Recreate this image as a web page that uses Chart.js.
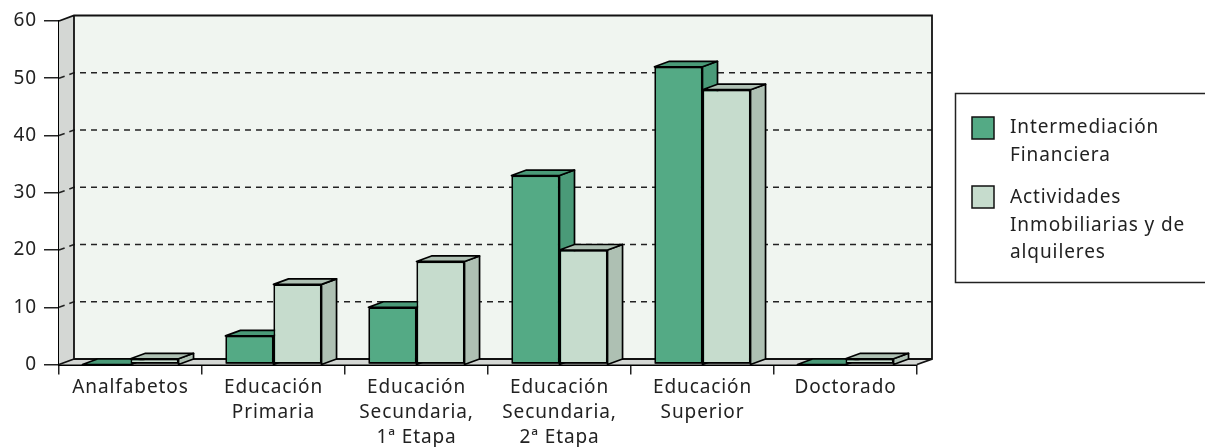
<!DOCTYPE html>
<html>
<head>
<meta charset="utf-8">
<style>html,body{margin:0;padding:0;background:#fff}canvas{display:block}</style>
<script src="https://cdn.jsdelivr.net/npm/chart.js@4"></script>
</head>
<body>
<canvas id="c" width="1205" height="447"></canvas>
<script>
const categories = [["Analfabetos"],["Educación","Primaria"],["Educación","Secundaria,","1ª Etapa"],["Educación","Secundaria,","2ª Etapa"],["Educación","Superior"],["Doctorado"]];
const serie1 = [0,5,10,33,52,0];
const serie2 = [1,14,18,20,48,1];
const legendLabels = [["Intermediación","Financiera"],["Actividades","Inmobiliarias y de","alquileres"]];
const yTicks = [0,10,20,30,40,50,60];
const FONT = "'Noto Sans'";
const FS = 19;
const SPACING = "0.9px";
const DX = 15, DY = -5.5;
const faceColors = [{top:"#4a9a78",side:"#4a9a78",front:"#54aa85"},{top:"#aec0b3",side:"#aec0b3",front:"#c6dccd"}];

function poly(ctx, pts, fill, stroke, lw){
  ctx.beginPath();
  pts.forEach((p,i)=> i?ctx.lineTo(p[0],p[1]):ctx.moveTo(p[0],p[1]));
  ctx.closePath();
  if(fill){ctx.fillStyle=fill;ctx.fill();}
  if(stroke){ctx.strokeStyle=stroke;ctx.lineWidth=lw||1;ctx.lineJoin="round";ctx.stroke();}
}
const room = {
  id:"room",
  beforeDraw(chart){ chart.ctx.letterSpacing=SPACING; },
  beforeDatasetsDraw(chart){
    const {ctx,chartArea:a,scales:{y}} = chart;
    ctx.save();
    poly(ctx,[[a.left+DX,a.top+DY],[a.right+DX,a.top+DY],[a.right+DX,a.bottom+DY],[a.left+DX,a.bottom+DY]],"#f0f5f0");
    poly(ctx,[[a.left,a.top],[a.left+DX,a.top+DY],[a.left+DX,a.bottom+DY],[a.left,a.bottom]],"#d4d7d4");
    poly(ctx,[[a.left,a.bottom],[a.right,a.bottom],[a.right+DX,a.bottom+DY],[a.left+DX,a.bottom+DY]],"#d4d7d4");
    ctx.strokeStyle="#222";ctx.lineWidth=1.5;ctx.setLineDash([6,5]);
    yTicks.filter(v=>v>0&&v<60).forEach(v=>{
      const py=y.getPixelForValue(v);
      ctx.beginPath();ctx.moveTo(a.left,py);ctx.lineTo(a.left+DX,py+DY);ctx.lineTo(a.right+DX,py+DY);ctx.stroke();
    });
    ctx.setLineDash([]);
    ctx.strokeStyle="#111";ctx.lineWidth=1.8;
    ctx.beginPath();
    ctx.moveTo(a.left,a.top);ctx.lineTo(a.left+DX,a.top+DY);ctx.lineTo(a.right+DX,a.top+DY);
    ctx.lineTo(a.right+DX,a.bottom+DY);ctx.lineTo(a.right,a.bottom);
    ctx.moveTo(a.left+DX,a.top+DY);ctx.lineTo(a.left+DX,a.bottom+DY);ctx.lineTo(a.right+DX,a.bottom+DY);
    ctx.moveTo(a.left+DX,a.bottom+DY);ctx.lineTo(a.left,a.bottom);
    ctx.stroke();
    ctx.restore();
  },
  afterDatasetsDraw(chart){
    const {ctx,chartArea:a} = chart;
    [0,1].forEach(i=>{
      const c = faceColors[i];
      chart.getDatasetMeta(i).data.forEach(b=>{
        ctx.save();
        const hw=b.width/2,l=b.x-hw,r=b.x+hw,t=b.y,bot=a.bottom;
        poly(ctx,[[r,t],[r+DX,t+DY],[r+DX,bot+DY],[r,bot]],c.side,"#000",1.7);
        poly(ctx,[[l,t],[r,t],[r+DX,t+DY],[l+DX,t+DY]],c.top,"#000",1.7);
        ctx.restore();
        b.draw(ctx);
      });
    });
  },
  afterDraw(chart){
    const ctx=chart.ctx;
    ctx.save();
    ctx.strokeStyle="#222";ctx.lineWidth=1.5;
    ctx.beginPath();ctx.moveTo(1205,93.5);ctx.lineTo(955.5,93.5);ctx.lineTo(955.5,282.5);ctx.lineTo(1205,282.5);ctx.stroke();
    const rows=[{sy:117,ty:128},{sy:186,ty:198}];
    ctx.font=FS+"px "+FONT;ctx.textBaseline="middle";ctx.textAlign="left";
    chart.data.datasets.forEach((d,i)=>{
      ctx.fillStyle=d.backgroundColor;ctx.strokeStyle="#111";ctx.lineWidth=1.5;
      ctx.fillRect(972,rows[i].sy,22,22);ctx.strokeRect(972,rows[i].sy,22,22);
      ctx.fillStyle="#222";
      legendLabels[i].forEach((s,j)=>ctx.fillText(s,1010,rows[i].ty+j*27.5));
    });
    ctx.restore();
  }
};
document.getElementById("c").getContext("2d").letterSpacing=SPACING;
new Chart(document.getElementById("c"),{
  type:"bar",
  data:{labels:categories,datasets:[
    {label:legendLabels[0].join(" "),data:serie1,backgroundColor:faceColors[0].front,borderColor:"#000",borderWidth:1.7,borderSkipped:false,clip:false,categoryPercentage:0.672,barPercentage:1},
    {label:legendLabels[1].join(" "),data:serie2,backgroundColor:faceColors[1].front,borderColor:"#000",borderWidth:1.7,borderSkipped:false,clip:false,categoryPercentage:0.672,barPercentage:1}
  ]},
  options:{
    responsive:false,animation:false,
    layout:{padding:{top:21,right:288,left:0,bottom:0}},
    plugins:{legend:{display:false},tooltip:{enabled:false}},
    scales:{
      x:{
        afterFit:s=>{s.height=82.5;},
        grid:{drawOnChartArea:false,tickLength:10,color:"#222",lineWidth:1.5,offset:true},
        border:{color:"#000",width:2},
        ticks:{color:"#222",font:{family:FONT,size:FS,lineHeight:25/FS},padding:1,maxRotation:0,autoSkip:false}
      },
      y:{
        min:0,max:60,
        afterFit:s=>{s.width=59;},
        afterBuildTicks:s=>{s.ticks=yTicks.map(v=>({value:v}));},
        grid:{drawOnChartArea:false,tickLength:15,color:"#222",lineWidth:1.5},
        border:{color:"#000",width:2.5},
        ticks:{color:"#222",font:{family:FONT,size:FS},padding:7}
      }
    }
  },
  plugins:[room]
});
</script>
</body>
</html>
